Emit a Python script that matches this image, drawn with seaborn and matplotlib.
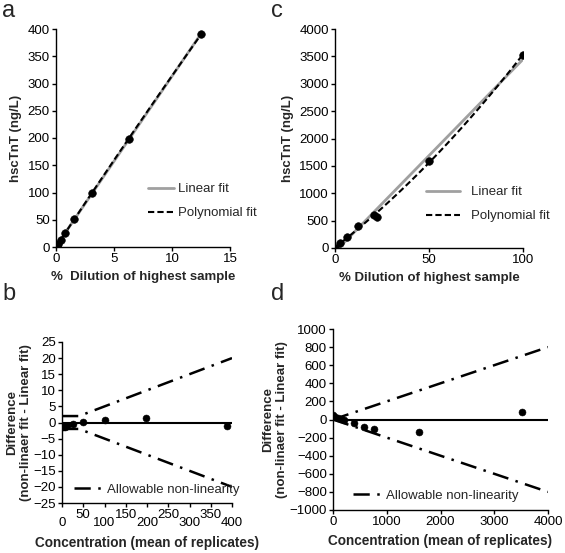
import numpy as np
import pandas as pd
import matplotlib
matplotlib.use("Agg")
import matplotlib.pyplot as plt
import seaborn as sns

sns.set_theme(style="ticks")
plt.rcParams['font.family'] = ['Liberation Sans', 'DejaVu Sans']

# ---------------- data ----------------
# panel a: dilution (%) vs hscTnT
a_dil = [0.1, 0.2, 0.39, 0.78, 1.56, 3.125, 6.25, 12.5]
a_val = [3, 6, 13, 26, 51, 100, 198, 390]

# panel c: dilution (%) vs hscTnT
c_dil = [0.0, 2.7, 6.2, 12.4, 21.0, 22.5, 50.0, 100.0]
c_val = [0, 90, 200, 395, 610, 566, 1595, 3530]

# panel b: difference vs concentration
b_conc = [3, 6, 12, 25, 50, 100, 198, 388]
b_diff = [-1.3, -1.5, -1.2, -0.5, 0.1, 0.8, 1.5, -1.0]
b_allow_x = [0, 30, 40, 400]
b_allow_y = [2, 2, 2, 20]

# panel d: difference vs concentration
d_conc = [5, 40, 90, 150, 200, 387, 581, 769, 1594, 3519]
d_diff = [48, 30, 15, 5, -10, -37, -81, -100, -137, 85]
d_allow_x = [0, 4000]
d_allow_y = [0, 800]

b_xticks = [0, 50, 100, 150, 200, 250, 300, 350, 400]
b_yticks = [-25, -20, -15, -10, -5, 0, 5, 10, 15, 20, 25]
d_xticks = [0, 1000, 2000, 3000, 4000]
d_yticks = [-1000, -800, -600, -400, -200, 0, 200, 400, 600, 800, 1000]

W, H = 565, 553
fig = plt.figure(figsize=(W / 100, H / 100), dpi=100)

def rect(l, r, t, b):
    return [l / W, 1 - b / H, (r - l) / W, (b - t) / H]

ax_a = fig.add_axes(rect(56, 230, 29, 247))
ax_c = fig.add_axes(rect(335, 523, 29, 248))
ax_b = fig.add_axes(rect(62, 232, 342, 503))
ax_d = fig.add_axes(rect(333, 548, 329, 510))

TICK_FS = 9.5
LAB_FS = 9.5
dashdot = (0, (6.5, 3, 1, 3))

def style(ax):
    sns.despine(ax=ax)
    for s in ["left", "bottom"]:
        ax.spines[s].set_linewidth(1.0)
        ax.spines[s].set_color("black")
    ax.tick_params(axis="both", length=3, width=1.0, labelsize=TICK_FS,
                   colors="black", pad=1.5)

def fit_panel(ax, xs, ys):
    df = pd.DataFrame({"x": xs, "y": ys})
    sns.regplot(data=df, x="x", y="y", ax=ax, order=1, ci=None, scatter=False,
                label="Linear fit", line_kws=dict(color="#a0a0a0", lw=2.0))
    sns.regplot(data=df, x="x", y="y", ax=ax, order=2, ci=None, scatter=False,
                label="Polynomial fit",
                line_kws=dict(color="black", lw=1.5, ls=(0, (3, 1.5))))
    sns.scatterplot(data=df, x="x", y="y", ax=ax, color="black", s=30,
                    edgecolor="black", zorder=5, legend=False)
    lines = ax.get_lines()
    return lines[0], lines[1]

# ---------- panel a ----------
la, pa = fit_panel(ax_a, a_dil, a_val)
ax_a.set_xlim(0, 15)
ax_a.set_ylim(0, 400)
ax_a.set_xticks([0, 5, 10, 15])
ax_a.set_yticks(range(0, 401, 50))
ax_a.set_xlabel("%  Dilution of highest sample", fontsize=LAB_FS, fontweight="bold")
ax_a.set_ylabel("hscTnT (ng/L)", fontsize=LAB_FS, fontweight="bold")
style(ax_a)
ax_a.legend([la, pa], ["Linear fit", "Polynomial fit"], loc="center left",
            bbox_to_anchor=(0.46, 0.21), frameon=False,
            fontsize=TICK_FS, handlelength=2.0, handletextpad=0.3, labelspacing=0.9)

# ---------- panel c ----------
lc, pc = fit_panel(ax_c, c_dil, c_val)
ax_c.set_xlim(0, 100)
ax_c.set_ylim(0, 4000)
ax_c.set_xticks([0, 50, 100])
ax_c.set_yticks(range(0, 4001, 500))
ax_c.set_xlabel("% Dilution of highest sample", fontsize=LAB_FS, fontweight="bold")
ax_c.set_ylabel("hscTnT (ng/L)", fontsize=LAB_FS, fontweight="bold")
style(ax_c)
ax_c.legend([lc, pc], ["Linear fit", "Polynomial fit"], loc="center left",
            bbox_to_anchor=(0.42, 0.2), frameon=False,
            fontsize=TICK_FS, handlelength=2.6, handletextpad=0.8, labelspacing=0.9)

# ---------- panel b ----------
ax_b.axhline(0, color="black", lw=1.5)
sns.lineplot(x=b_allow_x, y=b_allow_y, ax=ax_b, color="black", lw=1.8,
             linestyle=dashdot, label="Allowable non-linearity", estimator=None, sort=False)
sns.lineplot(x=b_allow_x, y=[-v for v in b_allow_y], ax=ax_b, color="black", lw=1.8,
             linestyle=dashdot, estimator=None, sort=False, legend=False)
sns.scatterplot(x=b_conc, y=b_diff, ax=ax_b, color="black", s=25, edgecolor="black",
                zorder=5, legend=False)
ax_b.set_xlim(0, 400)
ax_b.set_ylim(-25, 25)
ax_b.set_xticks(b_xticks)
# staggered labels: even ones pushed down a (compressed) line
b_labels = [("\n" + str(v)) if i % 2 == 0 else str(v) for i, v in enumerate(b_xticks)]
ax_b.set_xticklabels(b_labels, linespacing=0.62)
ax_b.set_yticks(b_yticks)
ax_b.set_xlabel("Concentration (mean of replicates)", fontsize=LAB_FS + 0.3,
                fontweight="bold", labelpad=5)
ax_b.set_ylabel("Difference\n(non-linaer fit - Linear fit)", fontsize=LAB_FS,
                fontweight="bold", labelpad=1)
style(ax_b)
ax_b.tick_params(axis="x", pad=1.0)
ax_b.legend(loc="lower left", bbox_to_anchor=(0.0, -0.03), frameon=False,
            fontsize=TICK_FS, handlelength=2.2, handletextpad=0.3)

# ---------- panel d ----------
ax_d.axhline(0, color="black", lw=1.5)
sns.lineplot(x=d_allow_x, y=d_allow_y, ax=ax_d, color="black", lw=1.8,
             linestyle=dashdot, label="Allowable non-linearity", estimator=None, sort=False)
sns.lineplot(x=d_allow_x, y=[-v for v in d_allow_y], ax=ax_d, color="black", lw=1.8,
             linestyle=dashdot, estimator=None, sort=False, legend=False)
sns.scatterplot(x=d_conc, y=d_diff, ax=ax_d, color="black", s=25, edgecolor="black",
                zorder=5, legend=False)
ax_d.set_xlim(0, 4000)
ax_d.set_ylim(-1000, 1000)
ax_d.set_xticks(d_xticks)
ax_d.set_yticks(d_yticks)
ax_d.set_xlabel("Concentration (mean of replicates)", fontsize=LAB_FS + 0.3,
                fontweight="bold", labelpad=4)
ax_d.set_ylabel("Difference\n(non-linaer fit - Linear fit)", fontsize=LAB_FS,
                fontweight="bold", labelpad=1)
style(ax_d)
ax_d.legend(loc="lower left", bbox_to_anchor=(0.04, -0.02), frameon=False,
            fontsize=TICK_FS, handlelength=2.2, handletextpad=0.3)

# panel letters
for txt, x, y in [("a", 2, 0), ("c", 271, 0), ("b", 2, 283), ("d", 271, 283)]:
    fig.text(x / W, 1 - y / H, txt, fontsize=17, va="top", ha="left")

fig.savefig("out.png", dpi=100)
